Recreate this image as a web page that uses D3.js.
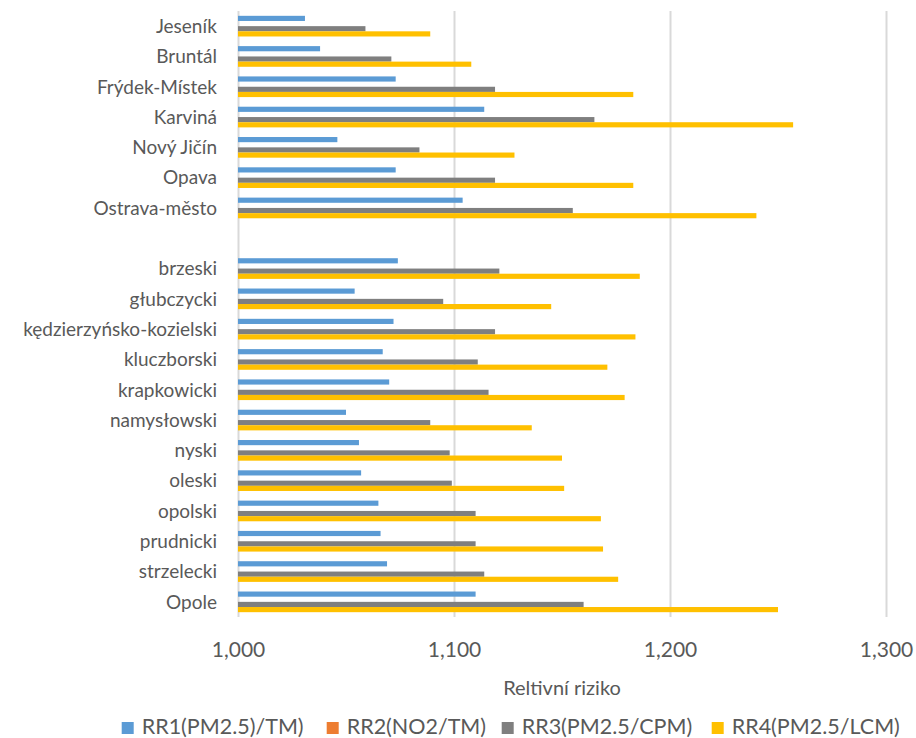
<!DOCTYPE html>
<html>
<head>
<meta charset="utf-8">
<script src="https://cdn.jsdelivr.net/npm/d3@7"></script>
<style>
  html, body { margin: 0; padding: 0; background: #ffffff; }
  svg { display: block; }
  text { font-family: Lato, "Open Sans", sans-serif; fill: #595959; }
</style>
</head>
<body>
<svg id="chart" width="916" height="738"></svg>
<script>
const categories = ["Jeseník","Bruntál","Frýdek-Místek","Karviná","Nový Jičín","Opava","Ostrava-město","",
  "brzeski","głubczycki","kędzierzyńsko-kozielski","kluczborski","krapkowicki","namysłowski",
  "nyski","oleski","opolski","prudnicki","strzelecki","Opole"];

const seriesNames = ["RR1(PM2.5)/TM)", "RR2(NO2/TM)", "RR3(PM2.5/CPM)", "RR4(PM2.5/LCM)"];
const seriesColors = ["#5B9BD5", "#ED7D31", "#7F7F7F", "#FFC000"];

const rr1 = [1.031,1.038,1.073,1.114,1.046,1.073,1.104,null,1.074,1.054,1.072,1.067,1.070,1.050,1.056,1.057,1.065,1.066,1.069,1.110];
const rr2 = [1.000,1.000,1.000,1.000,1.000,1.000,1.000,null,1.000,1.000,1.000,1.000,1.000,1.000,1.000,1.000,1.000,1.000,1.000,1.000];
const rr3 = [1.059,1.071,1.119,1.165,1.084,1.119,1.155,null,1.121,1.095,1.119,1.111,1.116,1.089,1.098,1.099,1.110,1.110,1.114,1.160];
const rr4 = [1.089,1.108,1.183,1.257,1.128,1.183,1.240,null,1.186,1.145,1.184,1.171,1.179,1.136,1.150,1.151,1.168,1.169,1.176,1.250];

const tickValues = [1.000, 1.100, 1.200, 1.300];
const axisTitle = "Reltivní riziko";

const series = [rr1, rr2, rr3, rr4];

const svg = d3.select("#chart");

const x = d3.scaleLinear().domain([1.0, 1.3]).range([238, 886]);
const y = d3.scaleBand().domain(d3.range(categories.length)).range([11, 617])
  .paddingInner(0.318).paddingOuter(0.159);
const ySub = d3.scaleBand().domain(d3.range(series.length)).range([0, y.bandwidth()]).padding(0);

const fmt = v => d3.format(".3f")(v).replace(".", ",");

// gridlines + tick labels
const xAxis = d3.axisBottom(x).tickValues(tickValues).tickSize(-(617 - 11)).tickFormat(fmt).tickPadding(0);
const gAxis = svg.append("g").attr("transform", "translate(0,617)").call(xAxis);
gAxis.select(".domain").remove();
gAxis.selectAll(".tick line").attr("stroke", "#D9D9D9").attr("stroke-width", 2);
gAxis.selectAll(".tick text")
  .attr("y", 40).attr("dy", 0)
  .style("font-size", "21px").style("fill", "#595959");

// bars
series.forEach((vals, si) => {
  svg.append("g").selectAll("rect")
    .data(vals.map((v, i) => ({ v, i })).filter(d => d.v !== null))
    .join("rect")
    .attr("x", x(1.0))
    .attr("y", d => y(d.i) + ySub(si))
    .attr("width", d => Math.max(0, x(d.v) - x(1.0)))
    .attr("height", ySub.bandwidth())
    .attr("fill", seriesColors[si]);
});

// category labels
svg.append("g").selectAll("text")
  .data(categories)
  .join("text")
  .attr("x", 217)
  .attr("y", (d, i) => y(i) + y.bandwidth() / 2)
  .attr("dy", "0.36em")
  .attr("text-anchor", "end")
  .style("font-size", "19px")
  .text(d => d);

// axis title
svg.append("text")
  .attr("x", 562).attr("y", 695)
  .attr("text-anchor", "middle")
  .style("font-size", "20px")
  .text(axisTitle);

// legend
const legendX = [121.7, 326.7, 501.7, 711.7];
const items = svg.append("g").selectAll("g").data(seriesNames).join("g")
  .attr("transform", (d, i) => `translate(${legendX[i]},0)`);
items.append("rect").attr("width", 12).attr("height", 12).attr("y", 722)
  .attr("fill", (d, i) => seriesColors[i]);
items.append("text").attr("x", 20).attr("y", 733.5)
  .style("font-size", "21.5px").text(d => d);
</script>
</body>
</html>
